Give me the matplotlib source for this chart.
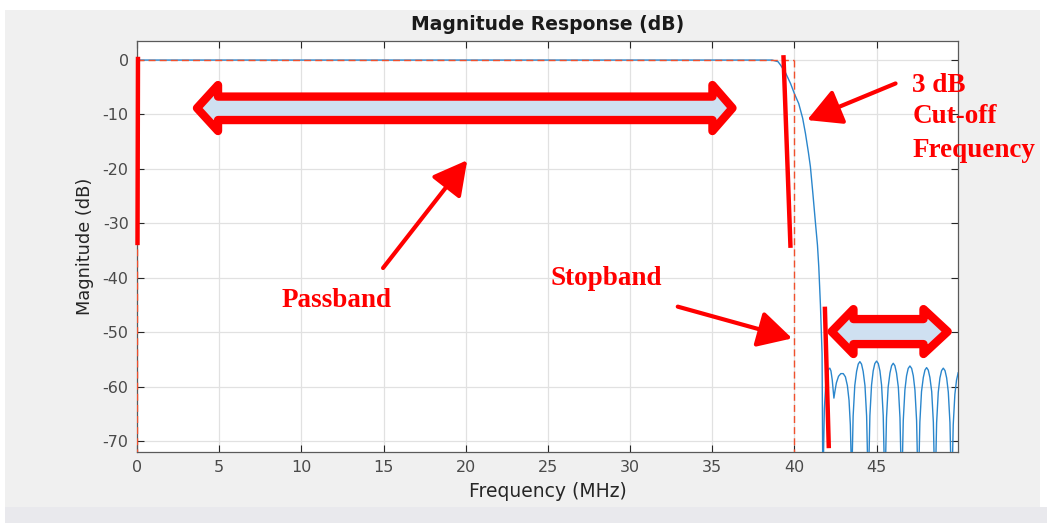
import matplotlib
matplotlib.use("Agg")
import matplotlib.pyplot as plt
from matplotlib.patches import Polygon, Rectangle, FancyArrowPatch
from matplotlib import font_manager

plt.rcParams["axes.unicode_minus"] = False

# ---- magnitude response (MHz, dB) ----
freq_mhz = [
    0.0, 38.0, 38.64, 39.0, 39.15, 39.45, 39.76, 40.0, 40.26, 40.5, 40.67,
    40.85, 40.97, 41.12, 41.28, 41.4, 41.48, 41.58, 41.68, 41.74,
    41.77, 41.82, 41.90, 41.98, 42.07, 42.15, 42.22, 42.30, 42.36, 42.40,
    42.46, 42.55, 42.68, 42.82, 42.97, 43.10, 43.22, 43.32, 43.40, 43.44, 43.47,
    43.50, 43.57, 43.67, 43.78, 43.88, 43.98, 44.08, 44.18, 44.29, 44.39, 44.46, 44.49,
    44.52, 44.59, 44.69, 44.79, 44.89, 44.995, 45.10, 45.20, 45.30, 45.40, 45.47, 45.50,
    45.53, 45.60, 45.70, 45.81, 45.91, 46.01, 46.11, 46.21, 46.32, 46.42, 46.49, 46.52,
    46.55, 46.62, 46.72, 46.82, 46.92, 47.025, 47.13, 47.23, 47.33, 47.43, 47.50, 47.53,
    47.56, 47.63, 47.73, 47.84, 47.94, 48.04, 48.14, 48.24, 48.35, 48.45, 48.52, 48.55,
    48.58, 48.65, 48.75, 48.85, 48.95, 49.055, 49.16, 49.26, 49.36, 49.46, 49.53, 49.56,
    49.59, 49.66, 49.76, 49.86, 49.96,
]
mag_db = [
    0.0, 0.0, 0.0, -0.3, -0.9, -2.3, -4.3, -6.2, -8.0, -10.7, -13.5,
    -17.0, -19.6, -24.5, -30.0, -34.0, -38.0, -45.0, -54.0, -85.0,
    -72.0, -64.0, -59.8, -57.8, -56.8, -56.6, -57.1, -58.8, -60.8, -62.1,
    -60.9, -59.3, -58.1, -57.6, -57.6, -58.2, -59.8, -62.5, -67.0, -72.0, -85.0,
    -75.0, -65.4, -59.8, -57.2, -55.85, -55.4, -55.85, -57.2, -59.8, -65.4, -75.0, -85.0,
    -75.0, -65.3, -59.7, -57.1, -55.75, -55.3, -55.75, -57.1, -59.7, -65.3, -75.0, -85.0,
    -75.3, -65.7, -60.1, -57.5, -56.15, -55.7, -56.15, -57.5, -60.1, -65.7, -75.3, -85.0,
    -75.8, -66.2, -60.6, -58.0, -56.65, -56.2, -56.65, -58.0, -60.6, -66.2, -75.8, -85.0,
    -76.1, -66.5, -60.9, -58.3, -56.95, -56.5, -56.95, -58.3, -60.9, -66.5, -76.1, -85.0,
    -76.2, -66.6, -61.0, -58.4, -57.05, -56.6, -57.05, -58.4, -61.0, -66.6, -76.2, -85.0,
    -76.6, -67.0, -61.4, -58.8, -57.45,
]

# ---- specification mask ----
passband_edge = 40.0
passband_level = 0.0
mask_floor = -85.0

x_ticks = [0, 5, 10, 15, 20, 25, 30, 35, 40, 45]
y_ticks = [0, -10, -20, -30, -40, -50, -60, -70]

W, H = 1047, 523
fig = plt.figure(figsize=(W / 100, H / 100), dpi=100, facecolor="white")

installed = {f.name for f in font_manager.fontManager.ttflist}
ui_font = ["Liberation Sans Narrow", "DejaVu Sans"] if "Liberation Sans Narrow" in installed else ["DejaVu Sans"]

# window panel backgrounds (pixel boxes converted to figure fractions)
fig.patches.append(Rectangle((5 / W, 1 - 507 / H), 1035 / W, 497 / H,
                             transform=fig.transFigure, facecolor="#f0f0f0",
                             edgecolor="none", zorder=-10))
fig.patches.append(Rectangle((5 / W, 0), 1042 / W, 16 / H,
                             transform=fig.transFigure, facecolor="#e9e9ed",
                             edgecolor="none", zorder=-10))

ax = fig.add_axes([137 / W, 1 - 452 / H, 821 / W, 411 / H])
ax.set_facecolor("white")
ax.set_xlim(0, 49.95)
ax.set_ylim(-72.0, 3.5)

ax.plot(freq_mhz, mag_db, color="#2a86cc", lw=1.0, zorder=3)

# mask: passband line, cutoff line and left edge
mask_kw = dict(color="#f0502d", lw=1.0, ls=(0, (5, 3)), zorder=4)
ax.plot([0, passband_edge], [passband_level, passband_level], **mask_kw)
ax.plot([passband_edge, passband_edge], [passband_level, mask_floor], **mask_kw)
ax.plot([0, 0], [passband_level, mask_floor], **mask_kw)

ax.set_xticks(x_ticks)
ax.set_yticks(y_ticks)
ax.grid(True, color="#e1e1e1", lw=0.9)
ax.set_axisbelow(True)
ax.tick_params(direction="in", length=5, width=0.8, colors="#262626",
               labelcolor="#4a4a4a", labelsize=11.5, top=True, right=True, pad=6)
for lbl in ax.get_xticklabels() + ax.get_yticklabels():
    lbl.set_family(ui_font)
for sp in ax.spines.values():
    sp.set_color("#5a5a5a")
    sp.set_linewidth(0.9)

ax.set_title("Magnitude Response (dB)", fontsize=13.5, fontweight="bold",
             family=ui_font, color="#1a1a1a", pad=8)
ax.set_xlabel("Frequency (MHz)", fontsize=13.5, family=ui_font, color="#262626", labelpad=5)
ax.set_ylabel("Magnitude (dB)", fontsize=12.8, family=ui_font, color="#262626", labelpad=6)

# ---- hand-drawn markup ----
red = "#ff0000"
band_blue = "#cfe0f1"
serif = ["Liberation Serif", "DejaVu Serif"]

# band edge strokes
edge_kw = dict(color=red, lw=3.2, solid_capstyle="butt", zorder=6, clip_on=False)
ax.plot([0.06, 0.03], [0.6, -34.0], **edge_kw)
ax.plot([39.33, 39.76], [0.9, -34.5], **edge_kw)
ax.plot([41.85, 42.09], [-45.3, -71.3], **edge_kw)

# double-headed block arrows (passband and stopband extents)
passband_arrow = [(3.65, -8.82), (4.93, -4.59), (4.93, -6.71), (35.01, -6.71),
                  (35.01, -4.59), (36.23, -8.82), (35.01, -13.04), (35.01, -11.02),
                  (4.93, -11.02), (4.93, -13.04)]
stopband_arrow = [(42.26, -49.88), (43.59, -45.75), (43.59, -47.58), (47.85, -47.58),
                  (47.85, -45.75), (49.32, -49.88), (47.85, -54.0), (47.85, -52.18),
                  (43.59, -52.18), (43.59, -54.0)]
for pts in (passband_arrow, stopband_arrow):
    ax.add_patch(Polygon(pts, closed=True, facecolor=band_blue, edgecolor=red,
                         lw=6.0, joinstyle="round", zorder=7, clip_on=False))

# pointer arrows
def pointer(tail, tip):
    ax.add_patch(FancyArrowPatch(tail, tip, arrowstyle="-|>,head_length=13,head_width=7",
                                 mutation_scale=1.6, color=red, lw=3.0,
                                 shrinkA=0, shrinkB=0, zorder=8, clip_on=False))

pointer((14.97, -38.2), (20.09, -18.4))
pointer((32.9, -45.3), (39.86, -51.13))
pointer((46.15, -4.3), (40.77, -11.02))

txt_kw = dict(color=red, fontsize=19.5, fontweight="bold", family=serif, zorder=9,
              clip_on=False, ha="left", va="baseline")
ax.text(8.81, -45.3, "Passband", **txt_kw)
ax.text(25.14, -41.34, "Stopband", **txt_kw)
for line, base in zip(["3 dB", "Cut-off", "Frequency"], [-5.82, -11.63, -17.77]):
    ax.text(47.16, base, line, **txt_kw)

fig.savefig("out.png", dpi=100, facecolor=fig.get_facecolor())
